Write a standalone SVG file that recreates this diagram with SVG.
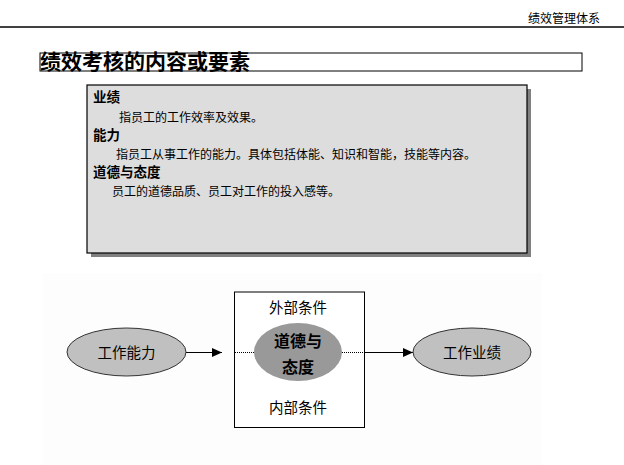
<svg xmlns="http://www.w3.org/2000/svg" width="624" height="465" viewBox="0 0 624 465">
<style>
text{font-family:"Noto Sans CJK SC","Liberation Sans",sans-serif;fill:#000}
.h{font-size:13.5px;font-weight:bold}
.b{font-size:12px}
.n{font-size:14.5px;text-anchor:middle}
.c{font-size:16px;font-weight:bold;text-anchor:middle}
.el{fill:#c0c0c0;stroke:#333;stroke-width:1}
.ln{stroke:#000;stroke-width:1;fill:none}
.dt{stroke:#000;stroke-width:1;stroke-dasharray:1 1;fill:none}
</style>
<defs>
<marker id="ah" markerWidth="10" markerHeight="10" refX="10" refY="5" orient="auto" markerUnits="userSpaceOnUse">
<path d="M0,0.5 L10,5 L0,9.5 Z" fill="#000"/>
</marker>
</defs>
<rect width="624" height="465" fill="#fff"/>
<g id="header">
<text x="600" y="23" style="font-size:12px;text-anchor:end">绩效管理体系</text>
<line x1="0" y1="27" x2="624" y2="27" stroke="#000" stroke-width="1.5"/>
</g>
<g id="title">
<rect x="40" y="53" width="542" height="18" fill="#fff" stroke="#000" stroke-width="1"/>
<text x="40" y="69" style="font-size:21px;font-weight:bold">绩效考核的内容或要素</text>
</g>
<g id="content-box">
<rect x="91" y="89" width="440" height="168" fill="#808080"/>
<rect x="87" y="85" width="440" height="168" fill="#dddddd" stroke="#000" stroke-width="1.2"/>
<text class="h" x="93" y="102">业绩</text>
<text class="b" x="119" y="122">指员工的工作效率及效果。</text>
<text class="h" x="93" y="140">能力</text>
<text class="b" x="116" y="159">指员工从事工作的能力。具体包括体能、知识和智能，技能等内容。</text>
<text class="h" x="93" y="177">道德与态度</text>
<text class="b" x="112" y="196">员工的道德品质、员工对工作的投入感等。</text>
</g>
<rect x="43" y="273" width="499" height="192" fill="#fdfdfd"/>
<g id="conditions-box">
<rect x="234.5" y="292" width="130" height="135.5" fill="#fff" stroke="#000" stroke-width="1"/>
<text class="n" x="298" y="313">外部条件</text>
<text class="n" x="298" y="413">内部条件</text>
</g>
<g id="connectors">
<line class="ln" x1="186" y1="352.5" x2="222" y2="352.5" marker-end="url(#ah)"/>
<line class="dt" x1="235" y1="352.5" x2="255" y2="352.5"/>
<line class="dt" x1="342" y1="352.5" x2="364" y2="352.5"/>
<line class="ln" x1="364" y1="352.5" x2="413" y2="352.5" marker-end="url(#ah)"/>
</g>
<g id="node-ability">
<ellipse class="el" cx="126.5" cy="352" rx="59.5" ry="24"/>
<text class="n" x="126.5" y="357.5">工作能力</text>
</g>
<g id="node-ethics">
<ellipse cx="298" cy="352" rx="44" ry="29" fill="#999"/>
<text class="c" x="298" y="347">道德与</text>
<text class="c" x="298" y="373">态度</text>
</g>
<g id="node-performance">
<ellipse class="el" cx="472" cy="352" rx="59" ry="24"/>
<text class="n" x="472" y="357.5">工作业绩</text>
</g>
</svg>
